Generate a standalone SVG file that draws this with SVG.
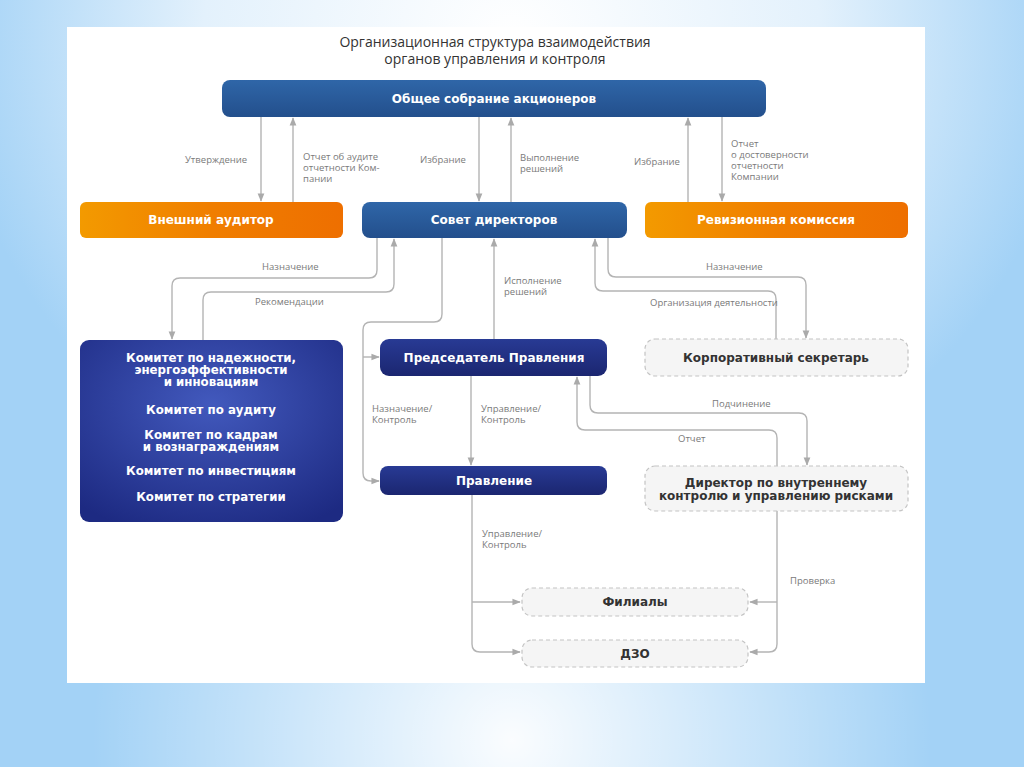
<svg xmlns="http://www.w3.org/2000/svg" width="1024" height="767" viewBox="0 0 1024 767">
<defs>
<radialGradient id="bgTop" cx="512" cy="20" r="560" gradientUnits="userSpaceOnUse" gradientTransform="translate(0,20) scale(1,0.9)">
<stop offset="0" stop-color="#ffffff"/>
<stop offset="0.55" stop-color="#e3f1fc"/>
<stop offset="1" stop-color="#a3d2f6"/>
</radialGradient>
<radialGradient id="bgBot" cx="512" cy="740" r="420" gradientUnits="userSpaceOnUse">
<stop offset="0" stop-color="#ffffff" stop-opacity="0.95"/>
<stop offset="1" stop-color="#ffffff" stop-opacity="0"/>
</radialGradient>
<linearGradient id="blueTop" x1="0" y1="0" x2="0" y2="1">
<stop offset="0" stop-color="#2f66a8"/>
<stop offset="1" stop-color="#234f8c"/>
</linearGradient>
<linearGradient id="navy" x1="0" y1="0" x2="0" y2="1">
<stop offset="0" stop-color="#283a94"/>
<stop offset="1" stop-color="#1b2670"/>
</linearGradient>
<linearGradient id="orange" x1="0" y1="0" x2="1" y2="0">
<stop offset="0" stop-color="#f39a00"/>
<stop offset="0.5" stop-color="#f07e00"/>
<stop offset="1" stop-color="#ee6f00"/>
</linearGradient>
<radialGradient id="comm" cx="0.5" cy="0.35" r="0.75">
<stop offset="0" stop-color="#4259bd"/>
<stop offset="1" stop-color="#1d2a82"/>
</radialGradient>
<marker id="ah" viewBox="0 0 10 10" refX="9" refY="5" markerWidth="6" markerHeight="6" orient="auto">
<path d="M0,1 L10,5 L0,9 Z" fill="#aaaaaa"/>
</marker>
<style>
.lbl{font-family:"Open Sans","DejaVu Sans",sans-serif;font-size:9.5px;fill:#7a7a7a}
.ttl{font-family:"Open Sans","DejaVu Sans",sans-serif;font-size:14px;fill:#333333}
.bw{font-family:"DejaVu Sans","Noto Sans",sans-serif;font-size:12px;font-weight:bold;fill:#ffffff;text-anchor:middle}
.bd{font-family:"DejaVu Sans","Noto Sans",sans-serif;font-size:12px;font-weight:bold;fill:#333333;text-anchor:middle}
.cw{font-family:"DejaVu Sans","Noto Sans",sans-serif;font-size:11.8px;font-weight:bold;fill:#ffffff;text-anchor:middle}
.dash{fill:#f5f5f5;stroke:#c4c4c4;stroke-width:1.2;stroke-dasharray:4 3}
.con path{fill:none;stroke:#b4b4b4;stroke-width:1.4}
</style>
</defs>
<rect x="0" y="0" width="1024" height="767" fill="url(#bgTop)"/>
<rect x="0" y="0" width="1024" height="767" fill="url(#bgBot)"/>
<rect x="67" y="27" width="858" height="656" fill="#ffffff"/>
<text class="ttl" x="495" y="47" text-anchor="middle">Организационная структура взаимодействия</text>
<text class="ttl" x="495" y="64" text-anchor="middle">органов управления и контроля</text>

<g id="connectors" class="con">
<path d="M261,117 V201" marker-end="url(#ah)"/>
<path d="M293,202 V118" marker-end="url(#ah)"/>
<path d="M479,117 V201" marker-end="url(#ah)"/>
<path d="M511,202 V118" marker-end="url(#ah)"/>
<path d="M688,202 V118" marker-end="url(#ah)"/>
<path d="M722,117 V201" marker-end="url(#ah)"/>
<path d="M377,238 V270 Q377,278 369,278 H180 Q172,278 172,286 V339" marker-end="url(#ah)"/>
<path d="M203,340 V300 Q203,292 211,292 H386 Q394,292 394,284 V239" marker-end="url(#ah)"/>
<path d="M442,238 V314 Q442,322 434,322 H371 Q363,322 363,330 V473 Q363,481 371,481 H379" marker-end="url(#ah)"/>
<path d="M363,357 H379" marker-end="url(#ah)"/>
<path d="M494,339 V239" marker-end="url(#ah)"/>
<path d="M608,238 V269 Q608,277 616,277 H798 Q806,277 806,285 V338" marker-end="url(#ah)"/>
<path d="M776,339 V299 Q776,291 768,291 H603 Q595,291 595,283 V239" marker-end="url(#ah)"/>
<path d="M471,376 V465" marker-end="url(#ah)"/>
<path d="M590,376 V405 Q590,413 598,413 H799 Q807,413 807,421 V465" marker-end="url(#ah)"/>
<path d="M777,466 V438 Q777,430 769,430 H585 Q577,430 577,422 V377" marker-end="url(#ah)"/>
<path d="M472,495 V644 Q472,652 480,652 H520" marker-end="url(#ah)"/>
<path d="M472,602 H520" marker-end="url(#ah)"/>
<path d="M777,511 V644 Q777,652 769,652 H750" marker-end="url(#ah)"/>
<path d="M777,602 H750" marker-end="url(#ah)"/>
</g>

<g id="labels">
<text class="lbl" x="185" y="163">Утверждение</text>
<text class="lbl" x="303" y="160">Отчет об аудите</text>
<text class="lbl" x="303" y="171">отчетности Ком-</text>
<text class="lbl" x="303" y="182">пании</text>
<text class="lbl" x="420" y="163">Избрание</text>
<text class="lbl" x="520" y="161">Выполнение</text>
<text class="lbl" x="520" y="172">решений</text>
<text class="lbl" x="634" y="165">Избрание</text>
<text class="lbl" x="731" y="147">Отчет</text>
<text class="lbl" x="731" y="158">о достоверности</text>
<text class="lbl" x="731" y="169">отчетности</text>
<text class="lbl" x="731" y="180">Компании</text>
<text class="lbl" x="262" y="270">Назначение</text>
<text class="lbl" x="255" y="305">Рекомендации</text>
<text class="lbl" x="504" y="284">Исполнение</text>
<text class="lbl" x="504" y="295">решений</text>
<text class="lbl" x="706" y="270">Назначение</text>
<text class="lbl" x="650" y="306">Организация деятельности</text>
<text class="lbl" x="372" y="412">Назначение/</text>
<text class="lbl" x="372" y="423">Контроль</text>
<text class="lbl" x="481" y="412">Управление/</text>
<text class="lbl" x="481" y="423">Контроль</text>
<text class="lbl" x="712" y="407">Подчинение</text>
<text class="lbl" x="678" y="442">Отчет</text>
<text class="lbl" x="482" y="537">Управление/</text>
<text class="lbl" x="482" y="548">Контроль</text>
<text class="lbl" x="790" y="584">Проверка</text>
</g>

<g id="n-sobranie">
<rect x="222" y="80" width="544" height="37" rx="8" fill="url(#blueTop)"/>
<text class="bw" x="494" y="103">Общее собрание акционеров</text>
</g>
<g id="n-auditor">
<rect x="80" y="202" width="263" height="36" rx="6" fill="url(#orange)"/>
<text class="bw" x="211" y="224">Внешний аудитор</text>
</g>
<g id="n-sovet">
<rect x="362" y="202" width="265" height="36" rx="8" fill="url(#blueTop)"/>
<text class="bw" x="494" y="224">Совет директоров</text>
</g>
<g id="n-revizion">
<rect x="645" y="202" width="263" height="36" rx="6" fill="url(#orange)"/>
<text class="bw" x="776" y="224">Ревизионная комиссия</text>
</g>
<g id="n-committees">
<rect x="80" y="340" width="263" height="182" rx="9" fill="url(#comm)"/>
<text class="cw" x="211" y="362">Комитет по надежности,</text>
<text class="cw" x="211" y="374">энергоэффективности</text>
<text class="cw" x="211" y="386">и инновациям</text>
<text class="cw" x="211" y="414">Комитет по аудиту</text>
<text class="cw" x="211" y="439">Комитет по кадрам</text>
<text class="cw" x="211" y="451">и вознаграждениям</text>
<text class="cw" x="211" y="475">Комитет по инвестициям</text>
<text class="cw" x="211" y="501">Комитет по стратегии</text>
</g>
<g id="n-predsedatel">
<rect x="380" y="339" width="227" height="37" rx="9" fill="url(#navy)"/>
<text class="bw" x="494" y="362">Председатель Правления</text>
</g>
<g id="n-sekretar">
<rect class="dash" x="645" y="339" width="263" height="37" rx="10"/>
<text class="bd" x="776" y="362">Корпоративный секретарь</text>
</g>
<g id="n-pravlenie">
<rect x="380" y="466" width="227" height="29" rx="8" fill="url(#navy)"/>
<text class="bw" x="494" y="485">Правление</text>
</g>
<g id="n-direktor">
<rect class="dash" x="645" y="466" width="263" height="45" rx="10"/>
<text class="bd" x="776" y="487">Директор по внутреннему</text>
<text class="bd" x="776" y="500">контролю и управлению рисками</text>
</g>
<g id="n-filialy">
<rect class="dash" x="522" y="588" width="226" height="28" rx="10"/>
<text class="bd" x="635" y="606">Филиалы</text>
</g>
<g id="n-dzo">
<rect class="dash" x="522" y="640" width="226" height="27" rx="10"/>
<text class="bd" x="635" y="658">ДЗО</text>
</g>
</svg>
